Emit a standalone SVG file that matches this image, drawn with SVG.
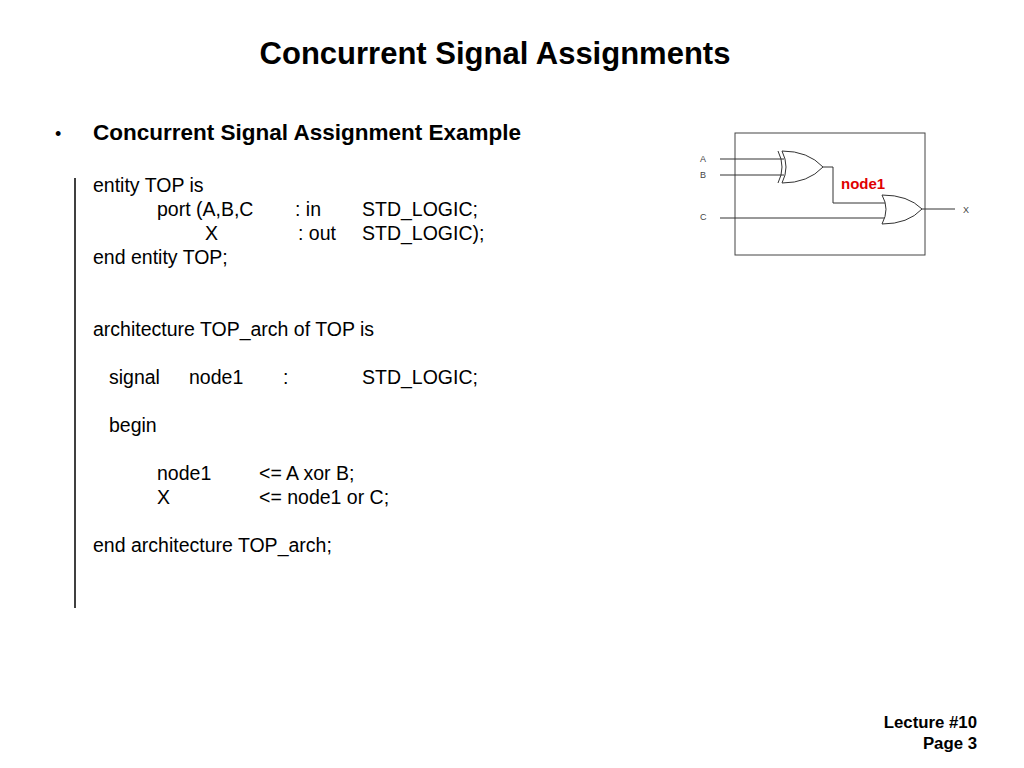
<svg xmlns="http://www.w3.org/2000/svg" width="1024" height="768" viewBox="0 0 1024 768">
<style>
text{font-family:"Liberation Sans",Arial,sans-serif;fill:#000}
.c{font-size:19.5px}
.s{font-size:9px;fill:#444}
.w{fill:none;stroke:#333;stroke-width:1}
</style>
<rect width="1024" height="768" fill="#fff"/>
<text x="495" y="64" text-anchor="middle" font-size="31" font-weight="bold" transform="translate(495 0) scale(1 1) translate(-495 0)">Concurrent Signal Assignments</text>
<text x="55" y="140" font-size="18">•</text>
<text x="93" y="140" font-size="22.5" font-weight="bold">Concurrent Signal Assignment Example</text>
<line x1="75" y1="178" x2="75" y2="608" stroke="#000" stroke-width="1.5"/>
<g>
<text x="93" y="192" class="c">entity TOP is</text>
<text x="157" y="216" class="c">port (A,B,C</text><text x="295" y="216" class="c">:  in</text><text x="362" y="216" class="c">STD_LOGIC;</text>
<text x="205" y="240" class="c">X</text><text x="298" y="240" class="c">:  out</text><text x="362" y="240" class="c">STD_LOGIC);</text>
<text x="93" y="264" class="c">end entity TOP;</text>
<text x="93" y="336" class="c">architecture TOP_arch of TOP is</text>
<text x="109" y="384" class="c">signal</text><text x="189" y="384" class="c">node1</text><text x="283" y="384" class="c">:</text><text x="362" y="384" class="c">STD_LOGIC;</text>
<text x="109" y="432" class="c">begin</text>
<text x="157" y="480" class="c">node1</text><text x="259" y="480" class="c">&lt;= A xor B;</text>
<text x="157" y="504" class="c">X</text><text x="259" y="504" class="c">&lt;= node1 or C;</text>
<text x="93" y="552" class="c">end architecture TOP_arch;</text>
</g>
<g id="circuit">
<rect x="735" y="133" width="190" height="122" fill="none" stroke="#444" stroke-width="1"/>
<text x="700" y="162" class="s">A</text>
<text x="700" y="178" class="s">B</text>
<text x="700" y="220" class="s">C</text>
<text x="963" y="213" class="s">X</text>
</g>
<g id="connectors">
<path class="w" d="M720 159H784M720 175H784M823 167H833V203H885M720 218H886M922 209H955"/>
</g>
<g id="xor">
<path class="w" d="M778 151Q786 167 778 183"/>
<path d="M782 151Q790 167 782 183Q808 183 823 167Q808 151 782 151Z" fill="#fff" stroke="#333"/>
</g>
<g id="or">
<path d="M882 195Q890 209 882 224Q908 224 922 209Q908 195 882 195Z" fill="#fff" stroke="#333"/>
</g>
<text x="841" y="189" font-size="15" font-weight="bold" style="fill:#e00000">node1</text>
<text x="977" y="728" text-anchor="end" font-size="16.8" font-weight="bold">Lecture #10</text>
<text x="977" y="749" text-anchor="end" font-size="16.8" font-weight="bold">Page 3</text>
</svg>
